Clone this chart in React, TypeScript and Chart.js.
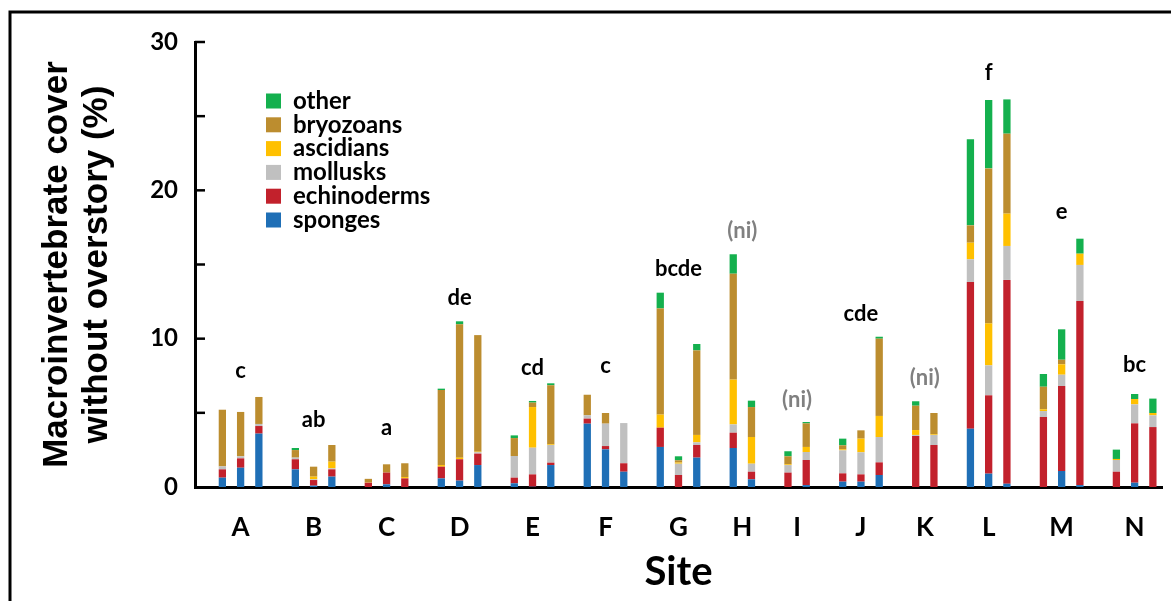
import React, { useEffect, useRef } from 'react';
import { Chart, registerables } from 'chart.js';

Chart.register(...registerables);

// ---------- data ----------
const sites = ['A', 'B', 'C', 'D', 'E', 'F', 'G', 'H', 'I', 'J', 'K', 'L', 'M', 'N'];
const barsPerSite = [3, 3, 3, 3, 3, 3, 3, 2, 2, 3, 2, 3, 3, 3];
const sigLetters = ['c', 'ab', 'a', 'de', 'cd', 'c', 'bcde', '(ni)', '(ni)', 'cde', '(ni)', 'f', 'e', 'bc'];
const sigLetterY = [7.8, 4.5, 4.0, 12.75, 8.0, 8.15, 14.7, 17.25, 5.9, 11.65, 7.35, 27.9, 18.55, 8.2];

const seriesNames = ['sponges', 'echinoderms', 'mollusks', 'ascidians', 'bryozoans', 'other'];
const seriesColors = ['#1F6FB6', '#C2212C', '#C0C0C0', '#FFC000', '#BC8D2F', '#14B04E'];

// bars in order: A1 A2 A3 B1 B2 B3 C1 C2 C3 D1 D2 D3 E1 E2 E3 F1 F2 F3 G1 G2 G3 H1 H2 I1 I2 J1 J2 J3 K1 K2 L1 L2 L3 M1 M2 M3 N1 N2 N3
const sponges = [0.63, 1.30, 3.60, 1.19, 0.09, 0.70, 0, 0.18, 0, 0.58, 0.43, 1.48, 0.25, 0.02, 1.48, 4.27, 2.54, 1.03, 2.70, 0, 1.98, 2.63, 0.52, 0, 0.13, 0.36, 0.36, 0.81, 0, 0, 3.93, 0.90, 0.22, 0, 1.08, 0.13, 0, 0.29, 0];
const echinoderms = [0.56, 0.63, 0.51, 0.68, 0.38, 0.49, 0.29, 0.79, 0.58, 0.79, 1.44, 0.77, 0.38, 0.83, 0.16, 0.34, 0.22, 0.57, 1.30, 0.81, 0.85, 1.03, 0.51, 0.97, 1.69, 0.56, 0.49, 0.85, 3.44, 2.83, 9.89, 5.28, 13.74, 4.72, 5.73, 12.41, 1.03, 4.00, 4.04];
const mollusks = [0.20, 0.14, 0.14, 0.11, 0.05, 0.07, 0, 0, 0, 0, 0, 0.09, 1.46, 1.80, 1.19, 0.22, 1.51, 2.71, 0, 0.76, 0.18, 0.56, 0.54, 0.51, 0.54, 1.55, 1.49, 1.71, 0.07, 0.68, 1.53, 2.02, 2.29, 0.40, 0.76, 2.43, 0.79, 1.28, 0.79];
const ascidians = [0, 0, 0, 0, 0.18, 0.45, 0.02, 0, 0.09, 0.11, 0.11, 0.04, 0, 2.74, 0.05, 0, 0, 0, 0.88, 0.08, 0.50, 3.02, 1.80, 0.05, 0.34, 0.07, 0.92, 1.42, 0.33, 0.05, 1.12, 2.83, 2.18, 0.12, 0.70, 0.76, 0.07, 0.36, 0.16];
const bryozoans = [3.82, 2.99, 1.82, 0.51, 0.67, 1.12, 0.24, 0.56, 0.93, 5.06, 8.99, 7.86, 1.21, 0.30, 3.98, 1.39, 0.72, 0, 7.16, 0.15, 5.70, 7.14, 2.02, 0.54, 1.59, 0.27, 0.56, 5.21, 1.64, 1.43, 1.17, 10.45, 5.39, 1.52, 0.31, 0, 0, 0, 0];
const other = [0, 0, 0, 0.14, 0, 0, 0, 0, 0, 0.09, 0.20, 0, 0.18, 0.11, 0.13, 0, 0, 0, 1.06, 0.27, 0.43, 1.31, 0.43, 0.34, 0.09, 0.45, 0, 0.13, 0.30, 0, 5.80, 4.61, 2.31, 0.86, 2.05, 1.01, 0.63, 0.34, 0.97];
const seriesValues = [sponges, echinoderms, mollusks, ascidians, bryozoans, other];

const yMax = 30;
const yStep = 5;

// ---------- build category slots (one blank slot before and between sites) ----------
const slotLabels: string[] = ['gap0'];
const siteSlots: number[][] = [];
const barSlot: number[] = [];
sites.forEach((s, i) => {
  const idx: number[] = [];
  for (let b = 0; b < barsPerSite[i]; b++) {
    idx.push(slotLabels.length);
    barSlot.push(slotLabels.length);
    slotLabels.push(s + (b + 1));
  }
  siteSlots.push(idx);
  if (i < sites.length - 1) slotLabels.push('gap' + (i + 1));
});

const buildData = (vals: number[]) => {
  const arr: (number | null)[] = slotLabels.map(() => null);
  vals.forEach((v, k) => {
    arr[barSlot[k]] = v;
  });
  return arr;
};

const LABEL_FONT = 'Lato, "Open Sans", sans-serif';

const decorPlugin = {
  id: 'decor',
  beforeDraw(chart: any) {
    const ctx = chart.ctx;
    ctx.save();
    ctx.fillStyle = '#fff';
    ctx.fillRect(0, 0, chart.width, chart.height);
    ctx.strokeStyle = '#000';
    ctx.lineWidth = 3;
    ctx.beginPath();
    ctx.moveTo(10, chart.height + 5);
    ctx.lineTo(10, 12);
    ctx.lineTo(chart.width + 5, 12);
    ctx.stroke();
    ctx.restore();
  },
  afterDraw(chart: any) {
    const ctx = chart.ctx;
    const xs = chart.scales.x;
    const ys = chart.scales.y;
    const area = chart.chartArea;
    ctx.save();
    // inward tick marks
    ctx.strokeStyle = '#000';
    ctx.lineWidth = 2.5;
    ys.ticks.forEach((t: any) => {
      if (t.value <= 0) return;
      const py = ys.getPixelForValue(t.value);
      ctx.beginPath();
      ctx.moveTo(area.left, py);
      ctx.lineTo(area.left + 10, py);
      ctx.stroke();
    });
    // site labels and significance letters
    ctx.textAlign = 'center';
    ctx.textBaseline = 'middle';
    siteSlots.forEach((idx, i) => {
      const cx = (xs.getPixelForValue(idx[0]) + xs.getPixelForValue(idx[idx.length - 1])) / 2;
      ctx.font = 'bold 26px ' + LABEL_FONT;
      ctx.fillStyle = '#000';
      ctx.fillText(sites[i], cx, area.bottom + 41);
      const txt = sigLetters[i];
      ctx.font = 'bold 22px ' + LABEL_FONT;
      ctx.fillStyle = txt.startsWith('(') ? '#808080' : '#000';
      ctx.fillText(txt, cx, ys.getPixelForValue(sigLetterY[i]));
    });
    // legend (reverse order)
    const ds = chart.data.datasets.slice().reverse();
    ctx.textAlign = 'left';
    ctx.font = 'bold 24px ' + LABEL_FONT;
    ds.forEach((d: any, i: number) => {
      const cy = 101 + i * 23.8;
      ctx.fillStyle = d.backgroundColor;
      ctx.fillRect(266, cy - 7.5, 15, 15);
      ctx.fillStyle = '#000';
      ctx.fillText(d.label, 293, cy);
    });
    ctx.restore();
  },
};

export default function App() {
  const canvasRef = useRef<HTMLCanvasElement | null>(null);

  useEffect(() => {
    if (!canvasRef.current) return;
    const chart = new Chart(canvasRef.current, {
      type: 'bar',
      data: {
        labels: slotLabels,
        datasets: seriesNames.map((name, i) => ({
          label: name,
          data: buildData(seriesValues[i]),
          backgroundColor: seriesColors[i],
          borderWidth: 0,
          barPercentage: 0.4,
          categoryPercentage: 1,
        })),
      },
      options: {
        responsive: false,
        animation: false,
        devicePixelRatio: 1,
        layout: { padding: { left: 0, right: 9, top: 42, bottom: 0 } },
        plugins: {
          legend: { display: false },
          tooltip: { enabled: false },
        },
        scales: {
          x: {
            stacked: true,
            offset: true,
            grid: { display: false, drawTicks: false },
            border: { display: true, color: '#000', width: 3 },
            ticks: { display: false },
            title: {
              display: true,
              text: 'Site',
              color: '#000',
              font: { family: LABEL_FONT, size: 40, weight: 'bold', lineHeight: '40px' },
              padding: { top: 0, bottom: 9 },
            },
            afterFit: (scale: any) => {
              scale.height = 114;
            },
          },
          y: {
            stacked: true,
            min: 0,
            max: yMax,
            grid: { display: false, drawTicks: false },
            border: { display: true, color: '#000', width: 3 },
            ticks: {
              stepSize: yStep,
              padding: 17,
              color: '#000',
              font: { family: LABEL_FONT, size: 24, weight: 'bold' },
              callback: (v: any) => (Number(v) % 10 === 0 ? String(v) : ''),
            },
            title: {
              display: true,
              text: ['Macroinvertebrate cover', 'without overstory (%)'],
              color: '#000',
              font: { family: '"Liberation Sans", Arial, sans-serif', size: 35, weight: 'bold', lineHeight: '40px' },
              padding: { top: 37, bottom: 0 },
            },
            afterFit: (scale: any) => {
              scale.width = 195;
            },
          },
        },
      },
      plugins: [decorPlugin],
    } as any);
    return () => chart.destroy();
  }, []);

  return (
    <div style={{ position: 'fixed', left: 0, top: 0, width: 1171, height: 601, background: '#fff' }}>
      <canvas ref={canvasRef} width={1171} height={601} style={{ width: 1171, height: 601, display: 'block' }} />
    </div>
  );
}
